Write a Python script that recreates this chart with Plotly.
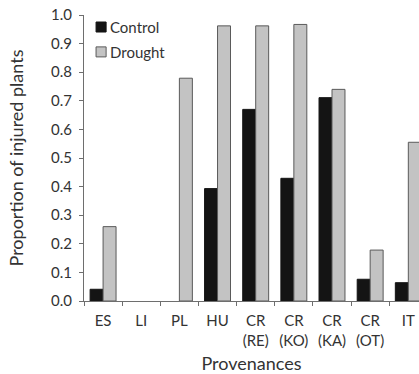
import plotly.graph_objects as go

# Provenance labels and proportion of injured plants per treatment
provenances = ["ES", "LI", "PL", "HU", "CR<br>(RE)", "CR<br>(KO)", "CR<br>(KA)", "CR<br>(OT)", "IT"]
control = [0.041, 0.0, 0.0, 0.393, 0.670, 0.429, 0.711, 0.076, 0.064]
drought = [0.260, 0.0, 0.779, 0.962, 0.962, 0.967, 0.740, 0.178, 0.555]
y_ticks = [0.0, 0.1, 0.2, 0.3, 0.4, 0.5, 0.6, 0.7, 0.8, 0.9, 1.0]
series_names = ["Control", "Drought"]

FONT = "Lato"
TEXT = "#333333"
AXIS = "#6e6e6e"
CONTROL_FILL, CONTROL_EDGE = "#141414", "#141414"
DROUGHT_FILL, DROUGHT_EDGE = "#c3c3c3", "#5a5a5a"


def edge_widths(values):
    # no outline on empty bars, so zero values leave no mark
    return [1 if v > 0 else 0 for v in values]


fig = go.Figure()
fig.add_trace(go.Bar(
    x=provenances, y=control, name=series_names[0],
    marker=dict(color=CONTROL_FILL, line=dict(color=CONTROL_EDGE, width=edge_widths(control))),
))
fig.add_trace(go.Bar(
    x=provenances, y=drought, name=series_names[1],
    marker=dict(color=DROUGHT_FILL, line=dict(color=DROUGHT_EDGE, width=edge_widths(drought))),
))

# compact legend in the upper-left corner of the plot area
legend_rows = [(series_names[0], CONTROL_FILL, CONTROL_EDGE, 0.958),
               (series_names[1], DROUGHT_FILL, DROUGHT_EDGE, 0.871)]
for name, fill, edge, yc in legend_rows:
    fig.add_shape(type="rect", xref="paper", yref="paper",
                  x0=0.036, x1=0.066, y0=yc - 0.0175, y1=yc + 0.0175,
                  fillcolor=fill, line=dict(color=edge, width=1))
    fig.add_annotation(text=name, xref="paper", yref="paper", x=0.073, y=yc,
                       xanchor="left", yanchor="middle", showarrow=False,
                       font=dict(family=FONT, size=15, color=TEXT))

fig.update_layout(
    width=419, height=374,
    margin=dict(l=84, r=0, t=15, b=73),
    paper_bgcolor="white", plot_bgcolor="white",
    barmode="group", bargap=0.32, bargroupgap=0,
    font=dict(family=FONT, size=15, color=TEXT),
    showlegend=False,
    xaxis=dict(
        range=[-0.5, 8.28], showline=True, linecolor=AXIS, linewidth=1,
        ticks="outside", ticklen=4, tickcolor=AXIS, tickson="boundaries",
        showgrid=False, zeroline=False, ticklabelstandoff=6,
        tickfont=dict(family=FONT, size=15, color=TEXT),
        title=dict(text="Provenances", font=dict(family=FONT, size=18, color=TEXT), standoff=10),
    ),
    yaxis=dict(
        range=[0, 1.0], tickvals=y_ticks, ticktext=[f"{v:.1f}" for v in y_ticks],
        showline=True, linecolor=AXIS, linewidth=1,
        ticks="outside", ticklen=4, tickcolor=AXIS,
        showgrid=False, zeroline=False, ticklabelstandoff=4,
        tickfont=dict(family=FONT, size=15, color=TEXT),
        title=dict(text="Proportion of injured plants", font=dict(family=FONT, size=18, color=TEXT), standoff=22),
    ),
)

fig.write_html("out.html")
